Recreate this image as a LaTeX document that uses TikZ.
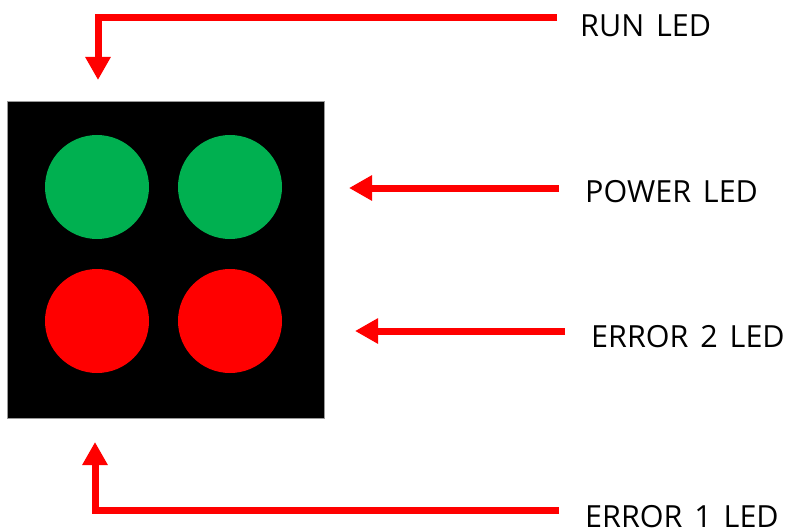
\documentclass[tikz,border=0pt]{standalone}
\usepackage{fontspec}
\setmainfont{Open Sans}[WordSpace=1.5]
\usetikzlibrary{arrows.meta}
\definecolor{ledgreen}{RGB}{0,176,80}
\definecolor{ledred}{RGB}{255,0,0}
\tikzset{
  lbl/.style={inner sep=0pt, anchor=base west, font=\fontsize{30.5}{36}\selectfont},
  led/.style={circle, minimum size=104pt, inner sep=0pt},
  redarrow/.style={draw=ledred, line width=7pt, miter limit=10,
    -{Triangle[width=24pt,length=23pt]}},
}
\begin{document}
\begin{tikzpicture}[x=1pt,y=-1pt]
\useasboundingbox (0,0) rectangle (787,532);
\node[fill=black, draw=black!40, line width=0.5pt, minimum width=317pt, minimum height=317pt, inner sep=0pt] (board) at (165.5,259.5) {};
\node[led, fill=ledgreen] (g1) at (97,187) {};
\node[led, fill=ledgreen] (g2) at (230,187) {};
\node[led, fill=ledred] (r1) at (97,321) {};
\node[led, fill=ledred] (r2) at (230,321) {};
\node[lbl] (run) at (580,37) {RUN LED};
\node[lbl] (power) at (585,202) {POWER LED};
\node[lbl] (err2) at (591,347) {ERROR 2 LED};
\node[lbl] (err1) at (585,527) {ERROR 1 LED};
\coordinate (runS) at (557,17.5);
\coordinate (runT) at (98,80);
\coordinate (powS) at (559,188);
\coordinate (powT) at (349,188);
\coordinate (e2S) at (565,331);
\coordinate (e2T) at (355,331);
\coordinate (e1S) at (559,510.5);
\coordinate (e1T) at (95,442);
\draw[redarrow] (runS) -| (runT);
\draw[redarrow] (powS) -- (powT);
\draw[redarrow] (e2S) -- (e2T);
\draw[redarrow] (e1S) -| (e1T);
\end{tikzpicture}
\end{document}
